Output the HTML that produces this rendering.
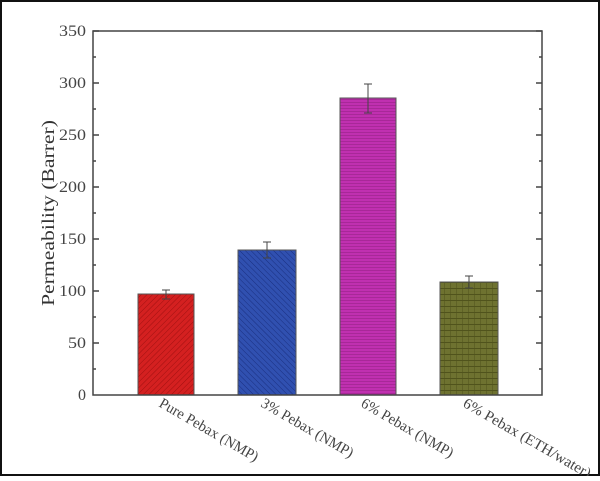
<!DOCTYPE html>
<html><head><style>body{margin:0;background:#fff}svg text{font-family:"Liberation Serif","Times New Roman",Times,serif}</style></head><body>
<svg width="600" height="476" xmlns="http://www.w3.org/2000/svg">
<defs>
<pattern id="pr" width="4" height="4" patternUnits="userSpaceOnUse" patternTransform="rotate(45)"><rect width="4" height="4" fill="#d42020"/><line x1="0" y1="0" x2="0" y2="4" stroke="#a01010" stroke-width="1"/></pattern>
<pattern id="pb" width="4" height="4" patternUnits="userSpaceOnUse" patternTransform="rotate(-45)"><rect width="4" height="4" fill="#3050b0"/><line x1="0" y1="0" x2="0" y2="4" stroke="#1a2f80" stroke-width="1"/></pattern>
<pattern id="pm" width="3" height="3" patternUnits="userSpaceOnUse"><rect width="3" height="3" fill="#c030b0"/><line x1="0" y1="0" x2="3" y2="0" stroke="#902080" stroke-width="1"/></pattern>
<pattern id="po" width="6" height="6" patternUnits="userSpaceOnUse"><rect width="6" height="6" fill="#6e7230"/><line x1="0" y1="0" x2="6" y2="0" stroke="#50531c" stroke-width="2"/><line x1="0" y1="0" x2="0" y2="6" stroke="#50531c" stroke-width="1"/></pattern>
</defs>
<rect x="1" y="1" width="598" height="474" fill="#fff" stroke="#111" stroke-width="2"/>
<g stroke="#444" stroke-width="1">
<rect x="138" y="294" width="56" height="101" fill="url(#pr)" stroke="#555"/>
<rect x="238" y="250" width="58" height="145" fill="url(#pb)" stroke="#555"/>
<rect x="340" y="98" width="56" height="297" fill="url(#pm)" stroke="#555"/>
<rect x="440" y="282" width="58" height="113" fill="url(#po)" stroke="#555"/>
<path d="M166 290V299M162 290H170M162 299H170 M267 242V258M263 242H271M263 258H271 M368 84V113M364 84H372M364 113H372 M469 276V288M465 276H473M465 288H473" fill="none"/>
</g>
<g stroke="#444" stroke-width="1.5" fill="none">
<rect x="93" y="31" width="449" height="364"/>
<path d="M93 31h6M93 83h6M93 135h6M93 187h6M93 239h6M93 291h6M93 343h6
M93 57h3M93 109h3M93 161h3M93 213h3M93 265h3M93 317h3M93 369h3
M542 31h-6M542 83h-6M542 135h-6M542 187h-6M542 239h-6M542 291h-6M542 343h-6
M542 57h-3M542 109h-3M542 161h-3M542 213h-3M542 265h-3M542 317h-3M542 369h-3"/>
</g>
<g fill="#444" font-size="16" text-anchor="end">
<text x="86" y="36" textLength="27" lengthAdjust="spacingAndGlyphs">350</text><text x="86" y="88" textLength="27" lengthAdjust="spacingAndGlyphs">300</text><text x="86" y="140" textLength="27" lengthAdjust="spacingAndGlyphs">250</text><text x="86" y="192" textLength="27" lengthAdjust="spacingAndGlyphs">200</text><text x="86" y="244" textLength="27" lengthAdjust="spacingAndGlyphs">150</text><text x="86" y="296" textLength="27" lengthAdjust="spacingAndGlyphs">100</text><text x="86" y="348" textLength="18" lengthAdjust="spacingAndGlyphs">50</text><text x="86" y="400">0</text>
</g>
<text transform="translate(54,213) rotate(-90)" text-anchor="middle" font-size="18" fill="#333" textLength="186" lengthAdjust="spacingAndGlyphs">Permeability (Barrer)</text>
<g fill="#444" font-size="15">
<text transform="translate(158,406) rotate(30)" textLength="112" lengthAdjust="spacingAndGlyphs">Pure Pebax (NMP)</text>
<text transform="translate(260,406) rotate(30)" textLength="104" lengthAdjust="spacingAndGlyphs">3% Pebax (NMP)</text>
<text transform="translate(360,406) rotate(30)" textLength="104" lengthAdjust="spacingAndGlyphs">6% Pebax (NMP)</text>
<text transform="translate(462,406) rotate(30)" textLength="145" lengthAdjust="spacingAndGlyphs">6% Pebax (ETH/water)</text>
</g>
</svg>
</body></html>
